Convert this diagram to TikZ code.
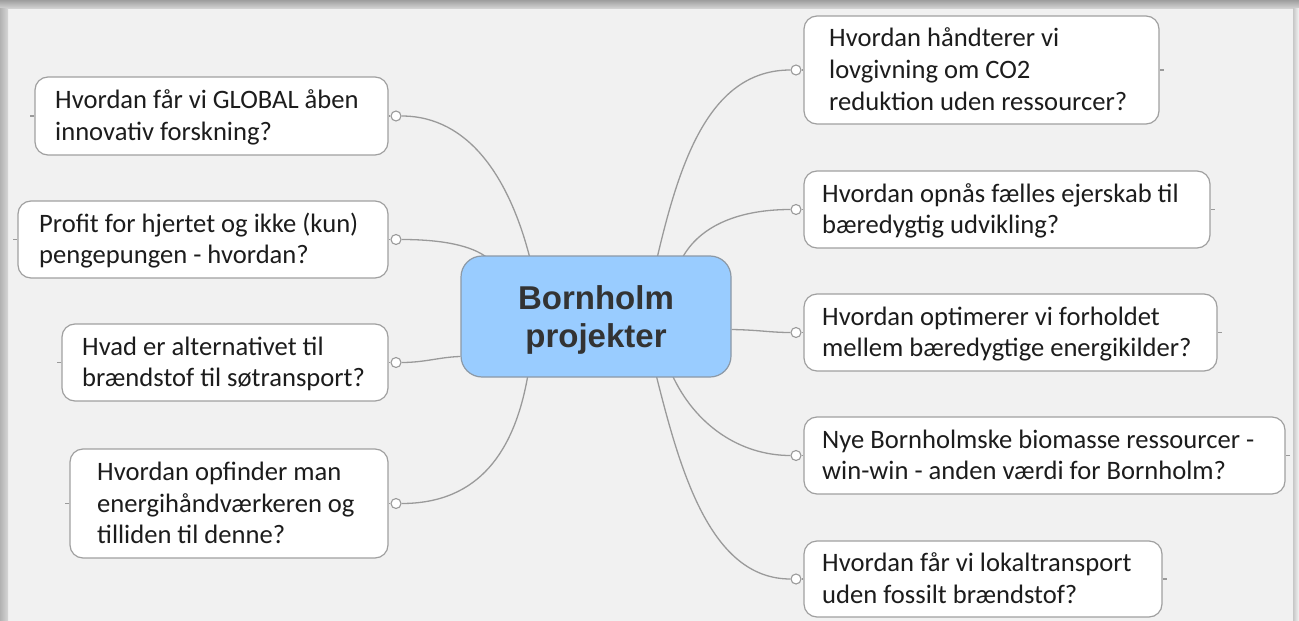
\documentclass[tikz,border=0pt]{standalone}
\usepackage{fontspec}
\newfontfamily\qfont{Carlito}
\newfontfamily\cfont{Liberation Sans}
\pgfdeclarelayer{bg}
\pgfdeclarelayer{lines}
\pgfsetlayers{bg,lines,main}
\definecolor{bgc}{HTML}{F1F1F1}
\definecolor{framec}{HTML}{CDCDCD}
\definecolor{boxline}{HTML}{A0A0A0}
\definecolor{connc}{HTML}{9A9A9A}
\definecolor{cfill}{HTML}{99CCFF}
\definecolor{cline}{HTML}{8C99A6}
\definecolor{ctext}{HTML}{333333}
\definecolor{qtextc}{HTML}{1C1C1C}
\newcommand\qstrut{\rule[-9pt]{0pt}{31pt}}
\newcommand\cstrut{\rule[-10pt]{0pt}{38pt}}
\tikzset{
  qbox/.style={draw=boxline, line width=1.2pt, fill=white, rounded corners=13pt, inner sep=0pt},
  qtext/.style={align=left, inner sep=0pt, anchor=west, text=qtextc, font=\qfont\fontsize{26.6}{31.7}\selectfont},
  dot/.style={circle, draw=connc, line width=1.1pt, fill=white, minimum size=10pt, inner sep=0pt},
  conn/.style={draw=connc, line width=1.3pt},
  stub/.style={draw=connc, line width=1.1pt},
}
\begin{document}
\begin{tikzpicture}[x=1pt,y=-1pt]
\useasboundingbox (0,0) rectangle (1299,621);
\begin{pgfonlayer}{bg}
  \fill[framec] (0,0) rectangle (1299,621);
  \fill[bgc] (8,8) rectangle (1293,621);
  \shade[top color=black!38, bottom color=black!18] (0,0) rectangle (1299,8);
  \shade[left color=black!30, right color=black!16] (0,8) rectangle (8,621);
  \shade[left color=black!22, right color=black!4] (1293,8) rectangle (1299,621);
\end{pgfonlayer}

% central node
\node[draw=cline, line width=1.2pt, fill=cfill, rounded corners=21pt, minimum width=270pt, minimum height=121pt, inner sep=0pt] (c) at (596,316.5) {};
\node[align=center, inner sep=0pt, text=ctext, font=\cfont\bfseries\fontsize{33}{38}\selectfont] (ct) at (596,319) {\cstrut Bornholm\\projekter\cstrut};

% boxes
\node[qbox, minimum width=353pt, minimum height=78pt] (b1) at (211.5,116) {};
\node[qbox, minimum width=370pt, minimum height=77pt] (b2) at (203,239.5) {};
\node[qbox, minimum width=326pt, minimum height=77pt] (b3) at (225,362.5) {};
\node[qbox, minimum width=318pt, minimum height=109pt] (b4) at (229,503.5) {};
\node[qbox, minimum width=355pt, minimum height=108pt] (b5) at (981.5,70) {};
\node[qbox, minimum width=406pt, minimum height=77pt] (b6) at (1007,209.5) {};
\node[qbox, minimum width=413pt, minimum height=77pt] (b7) at (1010.5,332.5) {};
\node[qbox, minimum width=481pt, minimum height=77pt] (b8) at (1044.5,455.5) {};
\node[qbox, minimum width=358pt, minimum height=76pt] (b9) at (983,579) {};

% texts
\node[qtext] (t1) at (55,118) {\qstrut Hvordan får vi GLOBAL åben\\innovativ forskning?\qstrut};
\node[qtext] (t2) at (39,241.5) {\qstrut Profit for hjertet og ikke (kun)\\pengepungen - hvordan?\qstrut};
\node[qtext] (t3) at (82,364.5) {\qstrut Hvad er alternativet til\\brændstof til søtransport?\qstrut};
\node[qtext] (t4) at (97,505.5) {\qstrut Hvordan opfinder man\\energihåndværkeren og\\tilliden til denne?\qstrut};
\node[qtext] (t5) at (829,72) {\qstrut Hvordan håndterer vi\\lovgivning om CO2\\reduktion uden ressourcer?\qstrut};
\node[qtext] (t6) at (822,211.5) {\qstrut Hvordan opnås fælles ejerskab til\\bæredygtig udvikling?\qstrut};
\node[qtext] (t7) at (822,334.5) {\qstrut Hvordan optimerer vi forholdet\\mellem bæredygtige energikilder?\qstrut};
\node[qtext] (t8) at (822,457.5) {\qstrut Nye Bornholmske biomasse ressourcer -\\win-win - anden værdi for Bornholm?\qstrut};
\node[qtext] (t9) at (822,581) {\qstrut Hvordan får vi lokaltransport\\uden fossilt brændstof?\qstrut};

% connector dots
\node[dot] (d1) at (396,116) {};
\node[dot] (d2) at (396,239.5) {};
\node[dot] (d3) at (396,362.5) {};
\node[dot] (d4) at (396,503.5) {};
\node[dot] (d5) at (796,70) {};
\node[dot] (d6) at (796,209.5) {};
\node[dot] (d7) at (796,332.5) {};
\node[dot] (d8) at (796,455.5) {};
\node[dot] (d9) at (796,579) {};

\begin{pgfonlayer}{lines}
  % dot to box
  \foreach \i in {1,2,3,4} { \draw[stub] (d\i.west) -- (b\i.east); }
  \foreach \i in {5,6,7,8,9} { \draw[stub] (d\i.east) -- (b\i.west); }
  % far-side stubs
  \foreach \i in {1,2,3,4} { \draw[stub] (b\i.west) -- ([xshift=-4pt]b\i.west); }
  \foreach \i in {5,6,7,8,9} { \draw[stub] (b\i.east) -- ([xshift=4pt]b\i.east); }
  % connectors from centre
  \draw[conn] ([xshift=-66pt,yshift=-3pt]c.north) .. controls (510,180) and (470,116) .. (d1.east);
  \draw[conn] ([xshift=-108pt,yshift=-3pt]c.north) .. controls (472,245) and (440,239.5) .. (d2.east);
  \draw[conn] ([yshift=-40pt]c.west) .. controls (440,357) and (425,362.5) .. (d3.east);
  \draw[conn] ([xshift=-68pt,yshift=3pt]c.south) .. controls (515,450) and (480,503.5) .. (d4.east);
  \draw[conn] ([xshift=61pt,yshift=-3pt]c.north) .. controls (680,160) and (710,70) .. (d5.west);
  \draw[conn] ([xshift=86pt,yshift=-3pt]c.north) .. controls (700,225) and (740,209.5) .. (d6.west);
  \draw[conn] ([yshift=-13pt]c.east) .. controls (760,330) and (770,332.5) .. (d7.west);
  \draw[conn] ([xshift=76pt,yshift=3pt]c.south) .. controls (695,425) and (740,455.5) .. (d8.west);
  \draw[conn] ([xshift=60pt,yshift=3pt]c.south) .. controls (680,470) and (710,579) .. (d9.west);
\end{pgfonlayer}
\end{tikzpicture}
\end{document}
